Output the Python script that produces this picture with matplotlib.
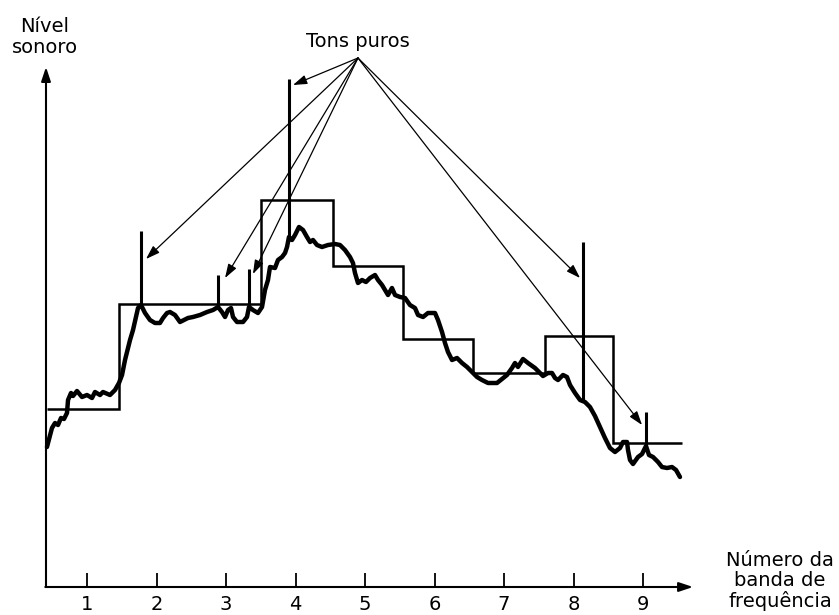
import matplotlib
matplotlib.use("Agg")
import matplotlib.pyplot as plt
import numpy as np

plt.rcParams['font.family'] = ['DejaVu Sans']

# ---------------- data (x in band number, y in arbitrary level units) -------------
band_ticks = [1, 2, 3, 4, 5, 6, 7, 8, 9]
tick_labels = ["1", "2", "3", "4", "5", "6", "7", "8", "9"]

# band-level staircase (edges and level of each band)
band_edges = [0.42, 1.46, 3.50, 4.54, 5.55, 6.55, 7.59, 8.57, 9.56]
band_levels = [17.8, 28.3, 38.7, 32.1, 24.8, 21.4, 25.1, 14.4]

# narrow-band spectrum (noisy curve)
spec_x = [0.424, 0.496, 0.540, 0.583, 0.626, 0.669, 0.712, 0.727, 0.770, 0.799,
          0.856, 0.928, 1.000, 1.072, 1.115, 1.187, 1.230, 1.331, 1.403, 1.460,
          1.504, 1.547, 1.619, 1.662, 1.705, 1.734, 1.777, 1.835, 1.906, 1.978,
          2.050, 2.094, 2.151, 2.194, 2.266, 2.338, 2.396, 2.453, 2.525, 2.626,
          2.727, 2.813, 2.885, 2.942, 2.986, 3.029, 3.072, 3.101, 3.158, 3.245,
          3.302, 3.331, 3.388, 3.460, 3.518, 3.561, 3.604, 3.633, 3.705, 3.748,
          3.806, 3.849, 3.878, 3.906, 3.950, 3.993, 4.050, 4.108, 4.165, 4.209,
          4.252, 4.309, 4.381, 4.468, 4.568, 4.640, 4.712, 4.784, 4.827, 4.856,
          4.899, 4.957, 5.014, 5.072, 5.144, 5.187, 5.245, 5.288, 5.331, 5.388,
          5.432, 5.504, 5.576, 5.647, 5.719, 5.763, 5.835, 5.906, 6.007, 6.050,
          6.108, 6.151, 6.194, 6.252, 6.324, 6.396, 6.468, 6.540, 6.612, 6.683,
          6.770, 6.899, 6.971, 7.043, 7.115, 7.158, 7.201, 7.273, 7.345, 7.446,
          7.518, 7.561, 7.633, 7.691, 7.734, 7.777, 7.849, 7.906, 7.950, 8.022,
          8.094, 8.165, 8.237, 8.309, 8.381, 8.453, 8.525, 8.597, 8.669, 8.712,
          8.770, 8.784, 8.813, 8.856, 8.928, 8.986, 9.043, 9.086, 9.144, 9.216,
          9.273, 9.345, 9.417, 9.475, 9.532]
spec_y = [14.0, 15.9, 16.4, 16.2, 16.9, 16.8, 17.4, 18.7, 19.4, 19.1,
          19.6, 19.0, 19.2, 18.9, 19.5, 19.2, 19.5, 19.2, 19.7, 20.4,
          21.2, 22.7, 24.7, 25.7, 27.0, 27.9, 28.2, 27.4, 26.7, 26.4,
          26.4, 26.9, 27.4, 27.5, 27.2, 26.5, 26.7, 26.9, 27.0, 27.2,
          27.5, 27.7, 28.0, 27.5, 27.0, 27.7, 27.9, 27.0, 26.5, 26.5,
          27.0, 28.0, 27.7, 27.4, 28.0, 29.7, 30.7, 32.0, 31.9, 32.7,
          33.0, 33.4, 34.0, 35.0, 34.7, 35.2, 36.0, 35.7, 35.0, 34.5,
          34.7, 34.2, 34.0, 34.2, 34.3, 34.2, 33.7, 33.0, 32.4, 31.4,
          30.4, 30.7, 30.5, 30.9, 31.2, 30.7, 30.2, 29.7, 29.2, 29.9,
          29.2, 29.0, 28.9, 28.2, 27.9, 27.2, 27.0, 27.4, 27.4, 26.7,
          25.5, 24.4, 23.5, 22.7, 22.9, 22.4, 22.0, 21.5, 21.0, 20.7,
          20.4, 20.4, 20.8, 21.2, 21.9, 22.4, 22.0, 22.8, 22.4, 21.9,
          21.4, 21.1, 21.4, 21.4, 20.9, 20.7, 21.2, 21.0, 20.2, 19.4,
          18.7, 18.5, 18.0, 17.1, 16.0, 14.9, 13.9, 13.5, 13.9, 14.5,
          14.5, 13.7, 12.7, 12.3, 13.0, 13.3, 14.1, 13.2, 13.0, 12.5,
          12.0, 11.9, 12.0, 11.7, 11.0]

# pure tones (spikes)
tone_x = [1.777, 2.885, 3.331, 3.906, 8.137, 9.043]
tone_base = [28.2, 28.0, 28.0, 35.0, 18.7, 14.1]
tone_top = [35.6, 31.2, 31.8, 50.8, 34.5, 17.5]

# annotation arrows
label_tones = "Tons puros"
label_src = (4.899, 52.9)
arrow_tx = [1.849, 2.986, 3.388, 3.964, 8.094, 8.986]
arrow_ty = [32.8, 30.9, 31.3, 50.2, 30.9, 16.2]

ylabel = "Nível\nsonoro"
xlabel = "Número da\nbanda de\nfrequência"

# ---------------- figure ----------------
fig = plt.figure(figsize=(8.39, 6.15), dpi=100)
ax = fig.add_axes([0, 0, 1, 1])
ax.set_xlim(-0.2518, 11.820)
ax.set_ylim(-2.8, 58.7)
ax.axis('off')

axis_x0 = 0.41
# axes with arrows
ax.annotate('', xy=(axis_x0, 52.0), xytext=(axis_x0, 0),
            arrowprops=dict(arrowstyle='-|>,head_length=0.6,head_width=0.2',
                            lw=1.5, color='black', mutation_scale=14,
                            shrinkA=0, shrinkB=0))
ax.annotate('', xy=(9.72, 0), xytext=(axis_x0 - 0.01, 0),
            arrowprops=dict(arrowstyle='-|>,head_length=0.6,head_width=0.2',
                            lw=1.5, color='black', mutation_scale=14,
                            shrinkA=0, shrinkB=0))

# ticks and labels
ax.vlines(band_ticks, 0, 1.4, color='black', lw=1.3)
for t, lab in zip(band_ticks, tick_labels):
    ax.text(t, -1.8, lab, ha='center', va='center', fontsize=14)

# staircase
ax.stairs(band_levels, band_edges, baseline=None, color='black', lw=1.8)

# spectrum
ax.plot(spec_x, spec_y, color='black', lw=3.2, solid_joinstyle='round',
        solid_capstyle='round')

# tones
ax.vlines(tone_x, tone_base, tone_top, color='black', lw=2.2)

# arrows
for tx, ty in zip(arrow_tx, arrow_ty):
    ax.annotate('', xy=(tx, ty), xytext=label_src,
                arrowprops=dict(arrowstyle='-|>,head_length=0.6,head_width=0.2',
                                lw=0.9, color='black', mutation_scale=14,
                                shrinkA=0, shrinkB=0))

ax.text(label_src[0], 54.5, label_tones, ha='center', va='center', fontsize=14)
ax.text(0.396, 57.0, ylabel, ha='center', va='top', fontsize=14,
        linespacing=1.15, multialignment='center')
ax.text(10.97, 3.6, xlabel, ha='center', va='top', fontsize=14,
        linespacing=1.05, multialignment='center')

fig.savefig('out.png', dpi=100)
